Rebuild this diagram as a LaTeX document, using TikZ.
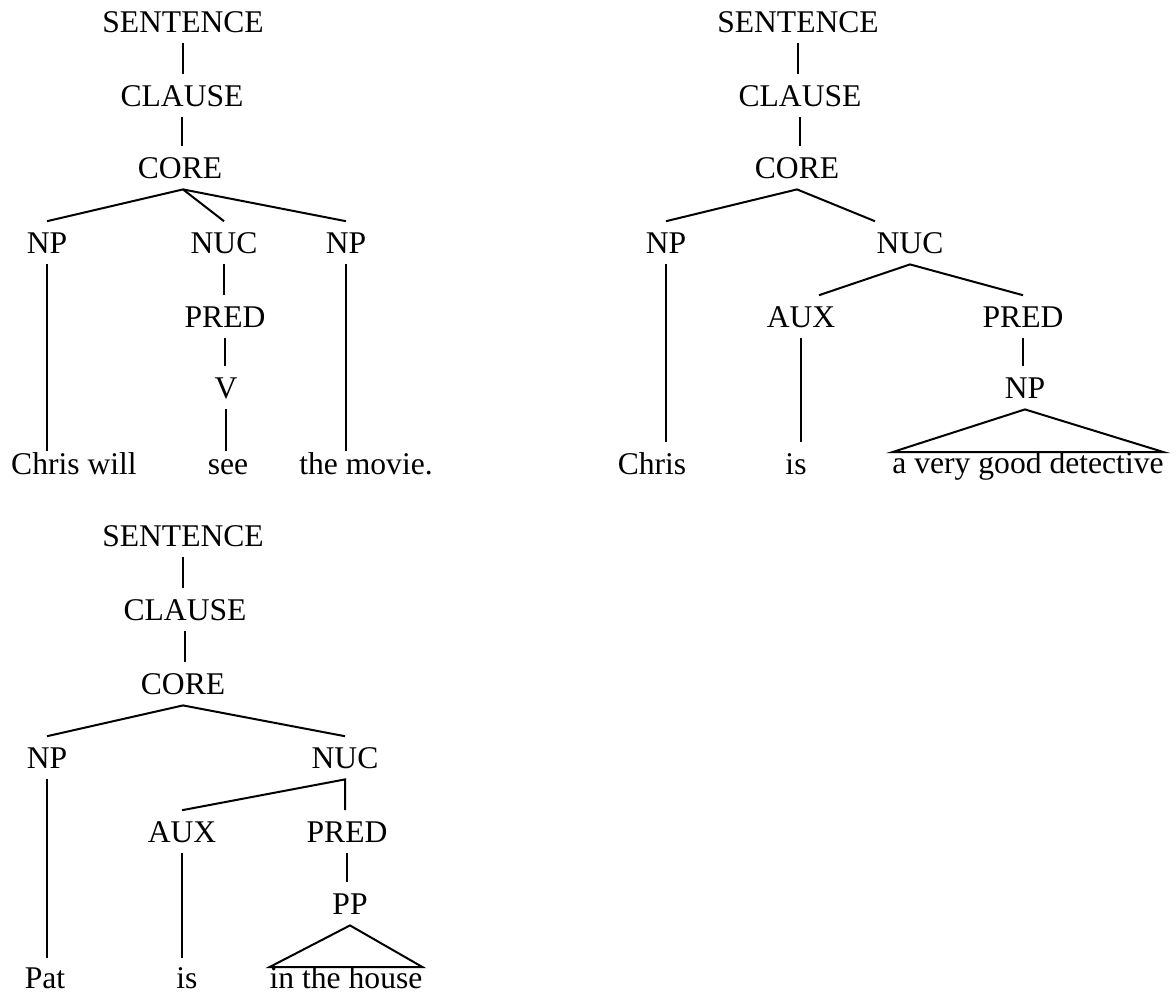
\documentclass[tikz,border=0pt]{standalone}
\usepackage{fontspec}
\setmainfont{Liberation Serif}
\usepackage{tikz}

\begin{document}
\begin{tikzpicture}[x=0.5pt, y=-0.5pt,
    cat/.style={anchor=base, font=\fontsize{15.8}{19}\selectfont, text height=10.2pt, text depth=0pt, inner xsep=0pt, inner ysep=5.5pt},
    leaf/.style={cat, inner ysep=1pt},
    phrase/.style={cat, inner ysep=0pt},
    branch/.style={line width=1pt}]
    \useasboundingbox (0,0) rectangle (1176,992);

    % Chris will see the movie.
    \node[cat] (s1) at (183,32) {SENTENCE};
    \node[cat] (cl1) at (182,106) {CLAUSE};
    \node[cat] (core1) at (180,178) {CORE};
    \node[cat] (np1a) at (47,253) {NP};
    \node[cat] (nuc1) at (224,253) {NUC};
    \node[cat] (np1b) at (346,253) {NP};
    \node[cat] (pred1) at (225,327) {PRED};
    \node[cat] (v1) at (226,398) {V};
    \node[leaf] (w1a) at (74,474) {Chris will};
    \node[leaf] (w1b) at (228,474) {see};
    \node[leaf] (w1c) at (366,474) {the movie.};

    \draw[branch] (s1.south) -- (s1.south |- cl1.north);
    \draw[branch] (cl1.south) -- (cl1.south |- core1.north);
    \draw[branch] (np1a.north) -- ([xshift=1.5pt]core1.south) -- (np1b.north);
    \draw[branch] ([xshift=1.5pt]core1.south) -- (nuc1.north);
    \draw[branch] (np1a.south) -- (np1a.south |- w1a.north);
    \draw[branch] (nuc1.south) -- (nuc1.south |- pred1.north);
    \draw[branch] (pred1.south) -- (pred1.south |- v1.north);
    \draw[branch] (v1.south) -- (v1.south |- w1b.north);
    \draw[branch] (np1b.south) -- (np1b.south |- w1c.north);

    % Chris is a very good detective
    \node[cat] (s2) at (798,32) {SENTENCE};
    \node[cat] (cl2) at (800,106) {CLAUSE};
    \node[cat] (core2) at (797,178) {CORE};
    \node[cat] (np2a) at (666,253) {NP};
    \node[cat] (nuc2) at (910,253) {NUC};
    \node[cat] (aux2) at (801,327) {AUX};
    \node[cat] (pred2) at (1023,327) {PRED};
    \node[cat] (np2b) at (1025,398) {NP};
    \node[cat] (w2a) at (652,474) {Chris};
    \node[cat] (w2b) at (796,474) {is};
    \node[phrase] (w2c) at (1028,473) {a very good detective};

    \draw[branch] (s2.south) -- (s2.south |- cl2.north);
    \draw[branch] (cl2.south) -- (cl2.south |- core2.north);
    \draw[branch] (np2a.north) -- (core2.south) -- ([xshift=-17.5pt]nuc2.north);
    \draw[branch] ([xshift=9pt]aux2.north) -- (nuc2.south) -- (pred2.north);
    \draw[branch] (np2a.south) -- (np2a.south |- w2a.north);
    \draw[branch] (aux2.south) -- (aux2.south |- w2b.north);
    \draw[branch] (pred2.south) -- (pred2.south |- np2b.north);
    \draw[branch] (np2b.south) -- (w2c.north west) -- (w2c.north east) -- cycle;

    % Pat is in the house
    \node[cat] (s3) at (183,546) {SENTENCE};
    \node[cat] (cl3) at (185,620) {CLAUSE};
    \node[cat] (core3) at (183,694) {CORE};
    \node[cat] (np3) at (47,768) {NP};
    \node[cat] (nuc3) at (345,768) {NUC};
    \node[cat] (aux3) at (182,842) {AUX};
    \node[cat] (pred3) at (347,842) {PRED};
    \node[cat] (pp3) at (350,914) {PP};
    \node[phrase] (w3a) at (45,988) {Pat};
    \node[phrase] (w3b) at (187,988) {is};
    \node[phrase] (w3c) at (346,988) {in the house};

    \draw[branch] (s3.south) -- (s3.south |- cl3.north);
    \draw[branch] (cl3.south) -- (cl3.south |- core3.north);
    \draw[branch] (np3.north) -- (core3.south) -- (nuc3.north);
    \draw[branch] (aux3.north) -- (nuc3.south) -- (nuc3.south |- pred3.north);
    \draw[branch, shorten >=4.5pt] (np3.south) -- (np3.south |- w3a.north);
    \draw[branch, shorten >=4.5pt] (aux3.south) -- (aux3.south |- w3b.north);
    \draw[branch] (pred3.south) -- (pred3.south |- pp3.north);
    \draw[branch] (pp3.south) -- (w3c.north west) -- (w3c.north east) -- cycle;
\end{tikzpicture}
\end{document}
